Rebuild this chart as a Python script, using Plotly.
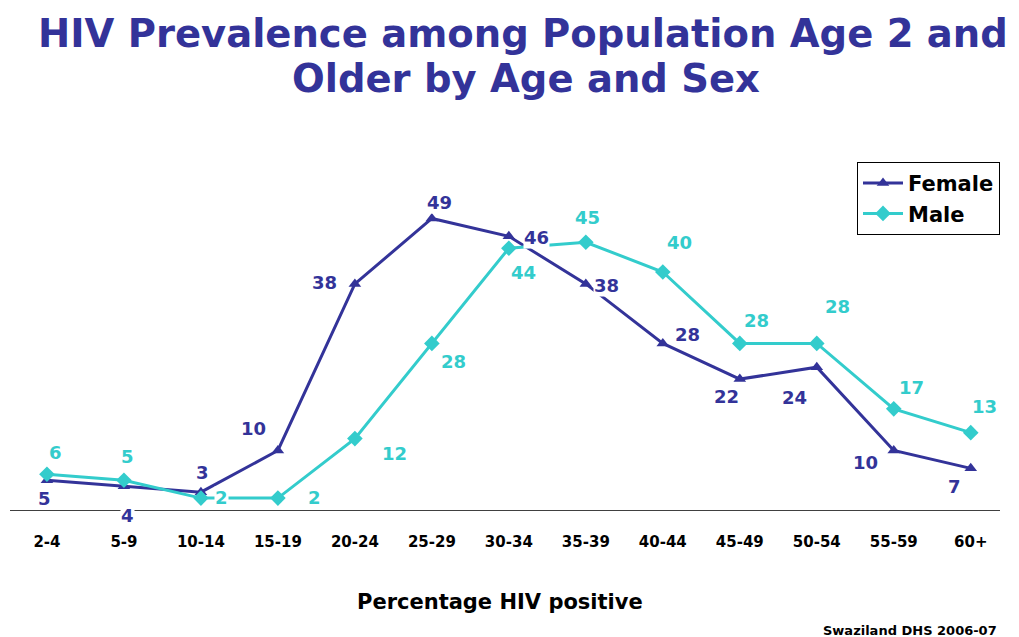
import plotly.graph_objects as go

categories = ["2-4", "5-9", "10-14", "15-19", "20-24", "25-29", "30-34",
              "35-39", "40-44", "45-49", "50-54", "55-59", "60+"]
female = [5, 4, 3, 10, 38, 49, 46, 38, 28, 22, 24, 10, 7]
male = [6, 5, 2, 2, 12, 28, 44, 45, 40, 28, 28, 17, 13]

# label offsets in pixels (dx, dy up)
female_off = [(-2, -18), (4, -29), (2, 20), (-24, 22), (-30, 1), (8, 16), (28, -1),
              (21, -2), (25, 9), (-13, -17), (-22, -30), (-28, -12), (-16, -18)]
male_off = [(9, 22), (4, 24), (21, 1), (37, 1), (40, -15), (22, -18), (15, -24),
            (2, 25), (17, 30), (17, 23), (21, 37), (18, 21), (14, 26)]

FC = "#333399"
MC = "#33CCCC"
FONT = "DejaVu Sans, Verdana, sans-serif"

fig = go.Figure()
fig.add_trace(go.Scatter(x=categories, y=female, name="Female", mode="lines+markers",
                         line=dict(color=FC, width=3),
                         marker=dict(symbol="triangle-up", size=11, color=FC)))
fig.add_trace(go.Scatter(x=categories, y=male, name="Male", mode="lines+markers",
                         line=dict(color=MC, width=3),
                         marker=dict(symbol="diamond", size=12, color=MC)))

annotations = []
for cat, v, (dx, dy) in zip(categories, female, female_off):
    annotations.append(dict(x=cat, y=v, xref="x", yref="y", text=f"<b>{v}</b>",
                            showarrow=False, xshift=dx, yshift=dy, bgcolor="white",
                            borderpad=0, font=dict(family=FONT, size=18, color=FC)))
for cat, v, (dx, dy) in zip(categories, male, male_off):
    annotations.append(dict(x=cat, y=v, xref="x", yref="y", text=f"<b>{v}</b>",
                            showarrow=False, xshift=dx, yshift=dy, bgcolor="white",
                            borderpad=0, font=dict(family=FONT, size=18, color=MC)))

# title lines
annotations.append(dict(x=0.518, y=1.336, xref="paper", yref="paper",
                        text="<b>HIV Prevalence among Population Age 2 and</b>",
                        showarrow=False, xanchor="center", yanchor="middle",
                        font=dict(family=FONT, size=38.5, color=FC)))
annotations.append(dict(x=0.521, y=1.210, xref="paper", yref="paper",
                        text="<b>Older by Age and Sex</b>",
                        showarrow=False, xanchor="center", yanchor="middle",
                        font=dict(family=FONT, size=38.5, color=FC)))

annotations.append(dict(x=0.495, y=-0.258, xref="paper", yref="paper",
                        text="<b>Percentage HIV positive</b>", showarrow=False,
                        xanchor="center", yanchor="middle",
                        font=dict(family=FONT, size=21, color="black")))
annotations.append(dict(x=0.999, y=-0.337, xref="paper", yref="paper",
                        text="<b>Swaziland DHS 2006-07</b>", showarrow=False,
                        xanchor="right", yanchor="middle",
                        font=dict(family=FONT, size=13, color="black")))

fig.update_layout(
    width=1019, height=637,
    paper_bgcolor="white", plot_bgcolor="white",
    margin=dict(l=10, r=19, t=153, b=127, autoexpand=False),
    showlegend=True,
    legend=dict(x=1.0, xanchor="right", y=0.975, yanchor="top",
                bordercolor="black", borderwidth=1, bgcolor="white",
                font=dict(family=FONT, size=21, color="black", weight="bold"),
                itemwidth=40, tracegroupgap=0),
    annotations=annotations,
    xaxis=dict(type="category", range=[-0.48, 12.38], showgrid=False, zeroline=False,
               showline=True, linecolor="#404040", linewidth=1, ticks="",
               ticklabelstandoff=18, automargin=False,
               tickfont=dict(family=FONT, size=15, color="black", weight="bold")),
    yaxis=dict(range=[0, 60], visible=False, showgrid=False, zeroline=False,
               automargin=False),
)

fig.write_html("out.html", config={"displayModeBar": False},
               post_script="document.body.style.margin='0';document.body.style.overflow='hidden';")
